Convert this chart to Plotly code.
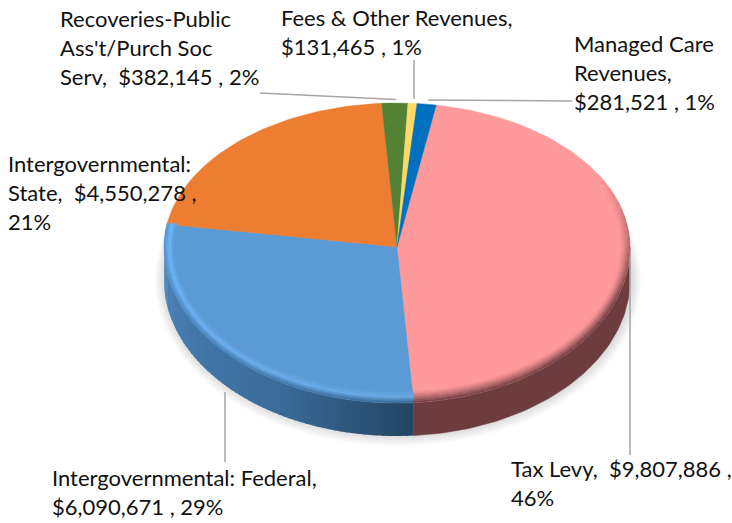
import math
import plotly.graph_objects as go

categories = ["Tax Levy", "Intergovernmental: Federal", "Intergovernmental: State",
              "Recoveries-Public Ass't/Purch Soc Serv", "Fees & Other Revenues", "Managed Care Revenues"]
values = [9807886, 6090671, 4550278, 382145, 131465, 281521]
percents = [46, 29, 21, 2, 1, 1]
colors = ["#FF9A9C", "#5B9BD5", "#ED7D31", "#548235", "#FFD966", "#0070C0"]
label_lines = [
    ["Tax Levy,  $9,807,886 ,", "46%"],
    ["Intergovernmental: Federal,", "$6,090,671 , 29%"],
    ["Intergovernmental:", "State,  $4,550,278 ,", "21%"],
    ["Recoveries-Public", "Ass't/Purch Soc", "Serv,  $382,145 , 2%"],
    ["Fees & Other Revenues,", "$131,465 , 1%"],
    ["Managed Care", "Revenues,", "$281,521 , 1%"],
]
label_pos = [(510, 468), (50.5, 477), (7, 163), (59, 18), (280, 17), (573, 43)]
line_step = 29
leaders = [((630, 257), (630, 455)), ((225, 392), (225, 462)), ((260, 93), (396, 99.5)),
           ((414, 60), (414, 99)), ((428, 100), (572, 101))]

W, H = 732, 523
CX, CY, RX, RY = 397, 247, 233, 144
LIP, BEVEL_X, DEPTH = 12, 10, 33
START = 9.7


def outer(deg):
    a = math.radians(deg)
    return CX + RX * math.sin(a), CY - RY * math.cos(a) + LIP * max(0, -math.cos(a))


def band(deg, t):
    a = math.radians(deg)
    ox, oy = outer(deg)
    ix, iy = CX + (RX - BEVEL_X) * math.sin(a), CY - RY * math.cos(a)
    return ix + (ox - ix) * t, iy + (oy - iy) * t


def hex2rgb(c):
    return tuple(int(c[i:i + 2], 16) for i in (1, 3, 5))


def mix(c1, c2, t):
    t = max(0, min(1, t))
    a, b = hex2rgb(c1), hex2rgb(c2)
    return "#%02x%02x%02x" % tuple(round(a[i] + (b[i] - a[i]) * t) for i in range(3))


def arange(a, b, step):
    n = max(1, round((b - a) / step))
    return [a + (b - a) * i / n for i in range(n + 1)]


traces = []


def poly(pts, color, lw=0.6):
    xs = [p[0] for p in pts] + [pts[0][0]]
    ys = [p[1] for p in pts] + [pts[0][1]]
    traces.append(go.Scatter(x=xs, y=ys, mode="lines", fill="toself", fillcolor=color,
                             line=dict(color=color, width=lw), hoverinfo="skip", showlegend=False))


total = sum(values)
edges = [START]
for v in values:
    edges.append(edges[-1] + 360 * v / total)
spans = list(zip(edges[:-1], edges[1:]))

# soft drop shadow
for k in range(12, 0, -1):
    pts = []
    for d in arange(0, 360, 5):
        a = math.radians(d)
        pts.append((CX + 1 + (RX + k * 0.9) * math.sin(a),
                    CY + DEPTH + (RY + LIP - 1 + k * 0.95) * -math.cos(a)))
    traces.append(go.Scatter(x=[p[0] for p in pts], y=[p[1] for p in pts], mode="lines", fill="toself",
                             fillcolor="rgba(0,0,0,0.012)", line=dict(width=0),
                             hoverinfo="skip", showlegend=False))


def side_color(d):
    u = (d - 176) / 94
    if u < 0.35:
        return mix("#244563", "#3A6A98", u / 0.35)
    return mix("#3A6A98", "#4C84BC", (u - 0.35) / 0.65)


# rim wall of the two front slices
a0, a1 = max(spans[0][0], 90), min(spans[0][1], 270)
grid = arange(a0, a1, 1.5)
wall = [outer(d) for d in grid]
poly(wall + [(x, y + DEPTH) for x, y in reversed(wall)], "#6C3C3F", 0.5)

a0, a1 = max(spans[1][0], 90), min(spans[1][1], 270)
grid = arange(a0, a1, 1.5)
for d0, d1 in zip(grid[:-1], grid[1:]):
    p0, p1 = outer(d0), outer(d1 + 0.4)
    poly([p0, p1, (p1[0], p1[1] + DEPTH), (p0[0], p0[1] + DEPTH)], side_color((d0 + d1) / 2), 0)

# flat top face
for (a0, a1), c in zip(spans, colors):
    pts = [(CX, CY)] + [outer(d) for d in arange(a0, a1, 1.5)]
    poly(pts, c, 0.4)


# bevel between face and wall
def bevel_color(i, d, t):
    if i == 0:
        w = max(0, min(1, (d - 60) / 50))
        return mix(colors[0], "#6C3C3F", w * t ** 1.25)
    u = max(0, min(1, (d - 176) / 94))
    peak = mix("#6AA9E4", "#6EB6FA", u)
    end = mix("#34608A", "#5593CC", u)
    if t < 0.5:
        return mix(colors[1], peak, t / 0.5)
    return mix(peak, end, (t - 0.5) / 0.5)


RINGS = 7
for i in (0, 1):
    a0, a1 = spans[i]
    if i == 0:
        a0 = 60
    grid = arange(a0, a1, 3)
    for d0, d1 in zip(grid[:-1], grid[1:]):
        for r in range(RINGS):
            t0, t1 = r / RINGS, (r + 1) / RINGS
            poly([band(d0, t0), band(d1 + 0.3, t0), band(d1 + 0.3, t1), band(d0, t1)],
                 bevel_color(i, (d0 + d1) / 2, (t0 + t1) / 2), 0.3)

fig = go.Figure(traces)

for (p, q) in leaders:
    fig.add_shape(type="line", x0=p[0], y0=p[1], x1=q[0], y1=q[1], xref="x", yref="y",
                  line=dict(color="#A6A6A6", width=1.5))

for lines, (lx, ly) in zip(label_lines, label_pos):
    for n, s in enumerate(lines):
        fig.add_annotation(x=lx, y=ly + n * line_step, text=s, xref="x", yref="y", showarrow=False,
                           xanchor="left", yanchor="middle", align="left", borderpad=0,
                           font=dict(family="Lato", size=22, color="#111111"))

fig.update_layout(width=W, height=H, margin=dict(l=0, r=0, t=0, b=0), autosize=False,
                  paper_bgcolor="white", plot_bgcolor="white", showlegend=False,
                  xaxis=dict(range=[0, W], visible=False, fixedrange=True),
                  yaxis=dict(range=[H, 0], visible=False, fixedrange=True))
fig.write_html("out.html", config={"displayModeBar": False},
               post_script="document.body.style.margin='0';document.documentElement.style.overflow='hidden';")
